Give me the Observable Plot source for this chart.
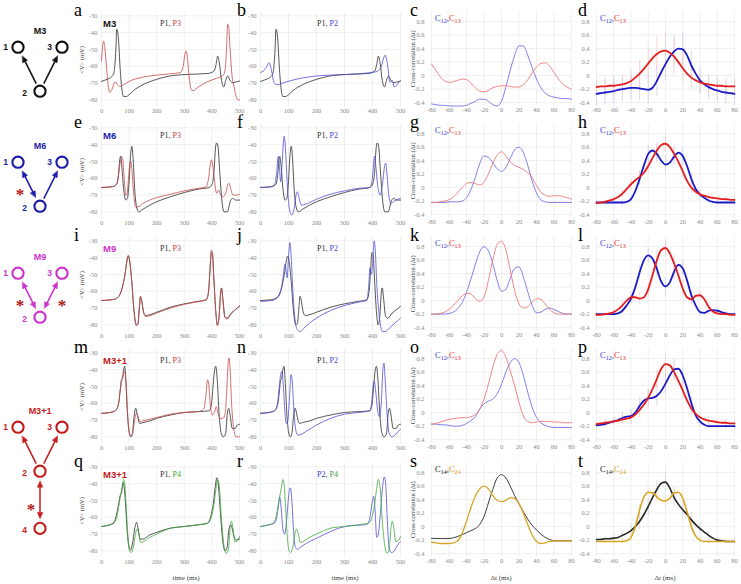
<!DOCTYPE html>
<html><head><meta charset="utf-8">
<script src="https://cdn.jsdelivr.net/npm/d3@7"></script>
<script src="https://cdn.jsdelivr.net/npm/@observablehq/plot@0.6"></script>
<style>
body{margin:0;background:#fff;}
#fig{position:relative;width:741px;height:584px;background:#fff;overflow:hidden;}
#fig svg{position:absolute;overflow:visible;}
</style></head><body><div id="fig"></div><script>
// ---------- axis ticks ----------
const vXTicks = [0,100,200,300,400,500];
const vYTicks = [-80,-70,-60,-50,-40,-30];
const ccXTicks = [-80,-60,-40,-20,0,20,40,60,80];
const ccYTicks = [-0.4,-0.2,0,0.2,0.4,0.6,0.8];
const dtGrid = [-80,-75,-70,-65,-60,-55,-50,-45,-40,-35,-30,-25,-20,-15,-10,-5,0,5,10,15,20,25,30,35,40,45,50,55,60,65,70,75,80];
const errDt = [-80,-70,-60,-50,-40,-30,-20,-10,0,10,20,30,40,50,60,70,80];
const panelLetters = ["a","b","c","d","e","f","g","h","i","j","k","l","m","n","o","p","q","r","s","t"];

// ---------- motifs ----------
const motifNames = ["M3","M6","M9","M3+1"];
const motifNodes = [
  ["M3","1",0,0],["M3","3",1,0],["M3","2",0.5,1],
  ["M6","1",0,0],["M6","3",1,0],["M6","2",0.5,1],
  ["M9","1",0,0],["M9","3",1,0],["M9","2",0.5,1],
  ["M3+1","1",0,0],["M3+1","3",1,0],["M3+1","2",0.5,1],["M3+1","4",0.5,2.3]
];
// [motif, from, to, bidirectional, starred]
const motifEdges = [
  ["M3","2","1",false,false],["M3","2","3",false,false],
  ["M6","2","1",true,true],["M6","2","3",false,false],
  ["M9","2","1",true,true],["M9","2","3",true,true],
  ["M3+1","2","1",false,false],["M3+1","2","3",false,false],["M3+1","2","4",true,true]
];

// ---------- voltage traces [t (ms), <V> (mV)] ----------
const r1_P1 = [[0,-69],[20,-67.8],[35,-66.5],[45,-64],[49,-58],[52,-50],[55,-38],[58,-39],[62,-45],[67,-60],[73,-72.5],[80,-78],[90,-78],[100,-77],[116,-74.5],[150,-71],[200,-67.8],[260,-65.5],[320,-64.8],[385,-64.3],[408,-62.8],[415,-59],[421,-54],[427,-58],[435,-68.5],[443,-72.3],[451,-67.8],[457,-65.8],[466,-68.5],[476,-69.8],[490,-69.2],[500,-68.8]];
const r1_P3 = [[0,-57],[4,-48],[8,-45],[12,-49],[18,-60],[24,-71],[30,-75.5],[38,-74],[46,-70],[52,-69.5],[58,-71],[66,-72],[80,-71],[100,-69],[150,-66.5],[200,-65.3],[250,-64.5],[285,-63.8],[296,-60],[302,-53],[307,-51],[312,-56],[318,-67],[325,-74],[332,-74.5],[350,-72.5],[380,-69.5],[420,-67],[440,-65.5],[448,-62],[453,-50],[457,-35],[461,-37],[466,-50],[472,-64],[480,-72],[488,-78],[494,-80],[500,-80]];
const r1_P2 = [[0,-63.7],[10,-62.8],[20,-61],[26,-59],[30,-57.8],[34,-59],[40,-63],[46,-68.5],[54,-70.8],[62,-71],[85,-69.7],[145,-67.1],[206,-65.7],[327,-64.7],[412,-63.3],[430,-60.8],[440,-55],[445,-53.4],[450,-55.5],[456,-62],[462,-69.5],[467,-69],[471,-68.5],[477,-72.3],[485,-71.5],[492,-70],[500,-68.7]];

const r2_P1 = [[0,-65.5],[40,-65],[55,-63.5],[62,-57],[66,-49],[69,-47],[73,-52],[80,-66],[88,-73],[94,-72],[100,-62],[105,-47],[110,-41],[114,-47],[120,-66],[127,-77],[135,-80],[150,-78.5],[175,-76],[200,-74],[250,-71],[300,-68.5],[350,-66.5],[390,-65.5],[402,-63],[408,-55],[413,-42],[417,-39],[422,-41],[428,-55],[436,-73],[444,-80],[456,-80],[462,-77],[468,-73],[476,-72],[486,-73],[500,-73]];
const r2_P3 = [[0,-65.5],[40,-65],[55,-63.5],[62,-58],[68,-50],[72,-47],[77,-49],[82,-60],[88,-70],[92,-70],[97,-62],[102,-52],[106,-50],[110,-55],[116,-68],[124,-77],[132,-77],[150,-75],[175,-73],[200,-71.5],[250,-69.5],[300,-67.5],[350,-66],[380,-65],[388,-60],[394,-52],[398,-49],[403,-52],[410,-62],[417,-69],[424,-67],[432,-70],[440,-71],[450,-69],[457,-64],[462,-63],[468,-66],[476,-70],[490,-70],[500,-69.5]];
const r2_P2 = [[0,-65.5],[40,-65],[52,-63],[58,-56],[63,-47],[67,-52],[72,-62],[77,-52],[82,-38],[85,-35],[89,-42],[95,-62],[103,-78],[112,-82],[120,-78],[127,-70],[132,-68],[138,-72],[146,-76],[175,-74.5],[200,-72.5],[250,-69.5],[300,-67.5],[350,-66],[390,-65.5],[398,-62],[403,-53],[407,-47],[412,-53],[419,-65],[428,-70],[436,-63],[443,-53],[447,-51],[452,-58],[458,-70],[466,-75],[474,-74],[484,-73],[500,-72]];

const r3_P1 = [[0,-65.5],[40,-65],[60,-63.5],[75,-58],[85,-50],[92,-42],[97,-39],[102,-42],[110,-55],[118,-72],[126,-80],[132,-79],[137,-70],[141,-63],[145,-65],[152,-72],[160,-74.5],[175,-74],[200,-72.5],[250,-69.5],[300,-67.5],[350,-66],[380,-65],[388,-60],[393,-48],[398,-37],[402,-38],[407,-52],[414,-72],[420,-80],[426,-75],[432,-60],[435,-58],[440,-65],[447,-75],[455,-76],[470,-73],[485,-71],[500,-69]];
const r3_P3 = [[0,-65.5],[40,-65],[60,-63.5],[75,-58],[85,-50],[92,-42],[97,-38.5],[102,-41.5],[110,-55],[118,-72],[126,-80.5],[132,-79.5],[137,-70.5],[141,-63.5],[145,-65.5],[152,-72.5],[160,-75],[175,-74.5],[200,-73],[250,-70],[300,-67.8],[350,-66.2],[380,-65.2],[388,-60],[393,-47],[398,-35.5],[402,-37],[407,-52],[414,-72],[420,-80.5],[426,-75.5],[432,-60.5],[435,-58.5],[440,-65.5],[447,-75.5],[455,-76.5],[470,-73.5],[485,-71],[500,-68.5]];
const r3_P2 = [[0,-66],[40,-65.5],[60,-64],[75,-58],[82,-50],[87,-44],[91,-47],[95,-52],[100,-40],[105,-31],[109,-38],[115,-58],[122,-75],[132,-83],[142,-84],[155,-82],[175,-79],[200,-76],[250,-71.5],[300,-68.5],[350,-66.5],[380,-65.5],[386,-58],[391,-46],[395,-50],[400,-45],[406,-30],[410,-36],[416,-58],[425,-76],[436,-84],[446,-84],[460,-82],[480,-79],[500,-76]];

const r4_P1 = [[0,-66],[30,-65.5],[50,-64.5],[62,-60],[68,-52],[72,-46],[76,-45],[80,-40],[84,-38],[88,-46],[94,-66],[100,-77],[106,-80],[112,-78],[118,-68],[124,-63],[130,-67],[138,-72],[150,-71.5],[175,-70.5],[200,-69],[250,-67],[300,-65.5],[350,-65],[390,-64.5],[398,-61],[404,-50],[410,-40],[414,-38],[419,-45],[426,-66],[434,-78],[442,-80],[450,-78],[456,-66],[461,-63],[466,-67],[474,-75],[484,-75],[492,-73],[500,-72.5]];
const r4_P3 = [[0,-66],[30,-65.5],[50,-64.5],[62,-60],[68,-52],[73,-47],[77,-45],[81,-42],[85,-41],[89,-48],[95,-68],[102,-78],[108,-79.5],[114,-77],[120,-70],[126,-66],[132,-68],[140,-71],[150,-70.5],[175,-69.5],[200,-68.5],[250,-66.5],[300,-65.5],[350,-65],[370,-63.5],[378,-56],[384,-46],[388,-48],[395,-62],[402,-67],[410,-65],[416,-62],[422,-66],[430,-69],[440,-69],[448,-66],[453,-55],[458,-38],[462,-33],[466,-40],[472,-62],[480,-76],[488,-80],[500,-80]];
const r4_P2 = [[0,-66],[30,-65.5],[50,-64.5],[60,-61],[66,-52],[72,-43],[76,-41],[80,-46],[86,-62],[92,-72],[98,-70],[104,-55],[109,-43],[113,-46],[119,-64],[126,-76],[134,-79],[145,-78.5],[165,-76.5],[200,-73],[250,-69],[300,-66.5],[350,-65.5],[390,-64.5],[397,-60],[402,-50],[406,-47],[411,-52],[418,-64],[425,-68],[432,-58],[437,-40],[441,-36],[445,-45],[452,-66],[460,-78],[470,-80],[480,-79],[490,-77],[500,-75.5]];

const r5_P1 = [[0,-65.5],[30,-64.5],[45,-63],[55,-58],[62,-52],[68,-47],[73,-45],[78,-39.5],[82,-42],[87,-52],[93,-68],[100,-78],[105,-79.5],[112,-76],[120,-67],[127,-63],[133,-67],[140,-73],[150,-73],[175,-70.5],[200,-69],[250,-66.5],[300,-65.5],[350,-64.5],[385,-63.5],[395,-60],[405,-52],[412,-42],[418,-36.5],[424,-42],[432,-60],[440,-75],[448,-80],[455,-78],[462,-67],[468,-64.5],[474,-67],[482,-72.5],[490,-73.5],[500,-73]];
const r5_P4 = [[0,-65.5],[30,-64.5],[45,-63.5],[55,-60],[62,-54],[68,-48],[74,-43],[80,-37.5],[84,-40],[89,-52],[95,-70],[102,-80],[108,-81],[115,-78],[122,-71],[128,-67],[134,-69],[142,-75],[152,-74.5],[175,-72],[200,-70],[250,-66.5],[300,-65.5],[350,-64.5],[385,-63.5],[396,-61],[406,-54],[414,-44],[421,-37.5],[427,-42],[435,-62],[444,-77],[452,-81.5],[460,-79],[466,-66],[471,-62.5],[476,-66],[483,-74.5],[492,-74],[500,-71.5]];
const r5_P2 = [[0,-65.5],[30,-64.5],[50,-63.5],[58,-60],[64,-53],[69,-48],[74,-55],[80,-67],[86,-70],[92,-64],[98,-52],[103,-44],[107,-42.5],[112,-50],[118,-68],[125,-78],[132,-79],[145,-77.5],[175,-74.5],[200,-72.5],[250,-68.5],[280,-66.5],[320,-65],[370,-64.5],[385,-63.5],[393,-58],[400,-50],[404,-47.5],[409,-55],[415,-72],[421,-70],[427,-60],[436,-42],[442,-36],[447,-40],[453,-62],[460,-79],[468,-81],[478,-80],[488,-77],[500,-74.5]];

// ---------- cross-correlations on dtGrid ----------
const r1_c_C12 = [-0.42,-0.43,-0.44,-0.44,-0.45,-0.45,-0.45,-0.45,-0.44,-0.41,-0.38,-0.35,-0.35,-0.38,-0.43,-0.45,-0.38,-0.17,0.08,0.3,0.44,0.44,0.3,0.12,-0.05,-0.18,-0.26,-0.3,-0.32,-0.33,-0.34,-0.34,-0.35];
const r1_c_C13 = [0.17,0.08,-0.02,-0.08,-0.1,-0.09,-0.07,-0.05,-0.06,-0.11,-0.18,-0.23,-0.24,-0.22,-0.18,-0.16,-0.15,-0.15,-0.16,-0.17,-0.17,-0.13,-0.06,0.04,0.13,0.18,0.19,0.14,0.05,-0.05,-0.12,-0.17,-0.2];
const r1_d_C12 = [-0.27,-0.26,-0.25,-0.24,-0.23,-0.21,-0.2,-0.19,-0.18,-0.18,-0.19,-0.2,-0.21,-0.18,-0.08,0.05,0.17,0.28,0.36,0.4,0.39,0.3,0.15,0.03,-0.07,-0.13,-0.17,-0.2,-0.22,-0.24,-0.25,-0.26,-0.27];
const r1_d_C13 = [-0.17,-0.16,-0.16,-0.15,-0.15,-0.14,-0.13,-0.11,-0.08,-0.03,0.03,0.1,0.18,0.26,0.32,0.36,0.37,0.34,0.28,0.2,0.11,0.03,-0.03,-0.07,-0.1,-0.12,-0.13,-0.14,-0.15,-0.15,-0.16,-0.16,-0.16];
const r2_g_C12 = [-0.22,-0.22,-0.22,-0.22,-0.21,-0.21,-0.21,-0.2,-0.15,-0.03,0.15,0.35,0.47,0.45,0.37,0.28,0.24,0.3,0.43,0.56,0.6,0.52,0.33,0.1,-0.08,-0.18,-0.21,-0.22,-0.22,-0.22,-0.22,-0.22,-0.22];
const r2_g_C13 = [-0.22,-0.22,-0.21,-0.2,-0.18,-0.14,-0.07,0.0,0.06,0.075,0.06,0.04,0.08,0.2,0.36,0.48,0.53,0.47,0.38,0.33,0.3,0.27,0.22,0.15,0.03,-0.07,-0.11,-0.13,-0.12,-0.12,-0.13,-0.15,-0.17];
const r2_h_C12 = [-0.22,-0.22,-0.22,-0.22,-0.22,-0.22,-0.22,-0.21,-0.17,-0.05,0.13,0.33,0.5,0.55,0.5,0.4,0.34,0.37,0.46,0.52,0.47,0.32,0.13,-0.02,-0.1,-0.15,-0.19,-0.21,-0.22,-0.22,-0.22,-0.22,-0.22];
const r2_h_C13 = [-0.23,-0.22,-0.21,-0.19,-0.17,-0.14,-0.09,-0.02,0.05,0.11,0.16,0.22,0.32,0.44,0.55,0.63,0.65,0.6,0.5,0.38,0.24,0.1,0.0,-0.06,-0.1,-0.12,-0.14,-0.15,-0.16,-0.17,-0.17,-0.18,-0.18];
const r3_k_C12 = [-0.2,-0.2,-0.2,-0.2,-0.19,-0.17,-0.12,-0.03,0.12,0.32,0.53,0.72,0.8,0.74,0.55,0.3,0.14,0.17,0.33,0.48,0.5,0.35,0.13,-0.07,-0.18,-0.17,-0.13,-0.11,-0.13,-0.16,-0.19,-0.2,-0.2];
const r3_k_C13 = [-0.2,-0.2,-0.19,-0.17,-0.13,-0.07,0.0,0.07,0.11,0.1,0.03,-0.01,0.05,0.3,0.6,0.83,0.88,0.75,0.45,0.15,-0.05,-0.11,-0.09,-0.02,0.03,0.02,-0.05,-0.13,-0.18,-0.2,-0.2,-0.2,-0.2];
const r3_l_C12 = [-0.2,-0.2,-0.2,-0.2,-0.2,-0.19,-0.15,-0.07,0.03,0.2,0.42,0.6,0.67,0.62,0.47,0.28,0.21,0.27,0.43,0.53,0.48,0.3,0.08,-0.07,-0.17,-0.18,-0.15,-0.14,-0.15,-0.17,-0.19,-0.2,-0.2];
const r3_l_C13 = [-0.21,-0.21,-0.2,-0.19,-0.17,-0.13,-0.07,0.0,0.05,0.05,0.03,0.05,0.17,0.38,0.6,0.75,0.78,0.7,0.55,0.37,0.18,0.05,0.02,0.07,0.08,0.02,-0.09,-0.16,-0.19,-0.2,-0.2,-0.21,-0.21];
const r4_o_C12 = [-0.17,-0.17,-0.18,-0.18,-0.19,-0.2,-0.2,-0.19,-0.16,-0.12,-0.06,0.05,0.13,0.17,0.2,0.28,0.42,0.6,0.74,0.8,0.74,0.55,0.3,0.08,-0.07,-0.15,-0.19,-0.21,-0.22,-0.22,-0.22,-0.22,-0.22];
const r4_o_C13 = [-0.17,-0.16,-0.14,-0.12,-0.1,-0.09,-0.08,-0.075,-0.075,-0.06,-0.03,0.05,0.2,0.42,0.67,0.86,0.92,0.82,0.62,0.4,0.15,-0.05,-0.13,-0.15,-0.14,-0.13,-0.13,-0.13,-0.14,-0.14,-0.15,-0.15,-0.15];
const r4_p_C12 = [-0.19,-0.18,-0.17,-0.15,-0.13,-0.11,-0.08,-0.06,-0.05,0.0,0.1,0.18,0.21,0.22,0.25,0.32,0.43,0.55,0.64,0.65,0.55,0.36,0.14,-0.04,-0.13,-0.18,-0.2,-0.2,-0.2,-0.2,-0.2,-0.2,-0.2];
const r4_p_C13 = [-0.17,-0.16,-0.15,-0.14,-0.13,-0.12,-0.1,-0.09,-0.07,-0.03,0.04,0.12,0.22,0.35,0.5,0.65,0.72,0.7,0.6,0.47,0.33,0.18,0.06,-0.02,-0.07,-0.1,-0.12,-0.13,-0.14,-0.15,-0.15,-0.16,-0.16];
const r5_s_C14 = [-0.175,-0.175,-0.175,-0.175,-0.175,-0.165,-0.145,-0.12,-0.09,-0.06,-0.03,0.03,0.15,0.35,0.55,0.72,0.77,0.72,0.6,0.46,0.34,0.22,0.11,0.02,-0.05,-0.11,-0.16,-0.19,-0.21,-0.21,-0.21,-0.21,-0.21];
const r5_s_C24 = [-0.23,-0.24,-0.25,-0.25,-0.25,-0.24,-0.21,-0.1,0.08,0.28,0.45,0.56,0.6,0.56,0.46,0.39,0.37,0.39,0.43,0.42,0.34,0.2,0.03,-0.12,-0.22,-0.25,-0.24,-0.22,-0.21,-0.21,-0.21,-0.21,-0.21];
const r5_t_C14 = [-0.19,-0.19,-0.18,-0.18,-0.17,-0.16,-0.13,-0.1,-0.06,0.0,0.08,0.18,0.3,0.43,0.55,0.64,0.66,0.57,0.43,0.33,0.25,0.18,0.1,0.03,-0.03,-0.08,-0.13,-0.17,-0.2,-0.21,-0.22,-0.22,-0.22];
const r5_t_C24 = [-0.22,-0.22,-0.22,-0.22,-0.22,-0.22,-0.22,-0.21,-0.16,0.0,0.25,0.44,0.51,0.5,0.44,0.39,0.38,0.42,0.5,0.51,0.42,0.22,0.0,-0.14,-0.2,-0.22,-0.22,-0.22,-0.22,-0.22,-0.22,-0.22,-0.22];

// ---------- error bars (sd) on errDt for averaged panels ----------
const r1_d_C12_sd = [0.17,0.18,0.18,0.18,0.18,0.18,0.2,0.22,0.24,0.25,0.24,0.22,0.2,0.18,0.17,0.17,0.17];
const r1_d_C13_sd = [0.12,0.12,0.13,0.14,0.16,0.2,0.24,0.26,0.27,0.26,0.22,0.18,0.15,0.13,0.12,0.12,0.12];
const r2_h_C12_sd = [0.03,0.03,0.03,0.04,0.06,0.1,0.12,0.13,0.14,0.13,0.12,0.09,0.06,0.04,0.03,0.03,0.03];
const r2_h_C13_sd = [0.03,0.03,0.04,0.05,0.07,0.09,0.1,0.12,0.13,0.12,0.1,0.08,0.06,0.05,0.04,0.04,0.03];
const r3_l_C12_sd = [0.03,0.03,0.03,0.04,0.08,0.1,0.11,0.12,0.13,0.12,0.11,0.08,0.06,0.05,0.04,0.03,0.03];
const r3_l_C13_sd = [0.03,0.03,0.04,0.06,0.08,0.09,0.1,0.12,0.13,0.12,0.1,0.09,0.07,0.05,0.04,0.03,0.03];
const r4_p_C12_sd = [0.04,0.05,0.06,0.08,0.1,0.12,0.13,0.15,0.16,0.15,0.13,0.1,0.07,0.05,0.04,0.04,0.04];
const r4_p_C13_sd = [0.04,0.05,0.06,0.08,0.1,0.12,0.13,0.14,0.15,0.14,0.12,0.1,0.08,0.06,0.05,0.04,0.04];
const r5_t_C14_sd = [0.03,0.04,0.05,0.07,0.1,0.12,0.13,0.14,0.15,0.14,0.13,0.11,0.08,0.05,0.04,0.03,0.03];
const r5_t_C24_sd = [0.02,0.02,0.03,0.04,0.06,0.08,0.08,0.09,0.1,0.09,0.08,0.07,0.05,0.04,0.03,0.02,0.02];

// ---------- styles / layout ----------
const COL = {P1:"#2b2b2b", P3:"#c94a4a", P2:"#4f4fd6", P4:"#3fa83f",
  C12t:"#7272e6", C13t:"#ef7878", C12:"#1a1ac6", C13:"#e41e1e", C14:"#262626", C24:"#d9a424"};
const ERRCOL = {C12:"#c6c6f2", C13:"#f6c4c4", C14:"#cfcfcf", C24:"#efdcaa"};
const MCOL = {"M3":"#111111","M6":"#1c1ca8","M9":"#cc33cc","M3+1":"#c41b1b"};
const OFF = [0,112,225,337,451];
const SERIF = "Liberation Serif, DejaVu Serif, serif";
const SANS = "Liberation Sans, Arial, sans-serif";
const fig = document.getElementById("fig");

function place(svg, left, top){
  svg.style.position = "absolute"; svg.style.left = left + "px"; svg.style.top = top + "px";
  svg.style.background = "none"; svg.style.maxWidth = "none";
  fig.appendChild(svg);
  d3.select(svg).selectAll('[aria-label="y-axis label"], [aria-label="x-axis label"]').attr("fill","#3a3a3a");
}
const axisStyle = {fontFamily: SERIF, fontSize: "6.5px", color: "#8c8c8c", background: "none", overflow: "visible"};
const gridMarks = (xt, yt) => [Plot.ruleX(xt, {stroke:"#e6e6e6", strokeWidth:0.6}), Plot.ruleY(yt, {stroke:"#e6e6e6", strokeWidth:0.6})];

function voltagePanel(col, row, series){
  const xr = col === 0 ? [101,239] : [260,400];
  const yTop = 11.64 + OFF[row], yBot = 106.56 + OFF[row];
  const mL = 34, mR = 6, mT = 4, mB = 12;
  const svg = Plot.plot({
    width: mL + xr[1]-xr[0] + mR, height: mT + (yBot-yTop) + mB,
    marginLeft: mL, marginRight: mR, marginTop: mT, marginBottom: mB,
    style: axisStyle,
    x: {domain:[0,500], ticks: vXTicks, tickSize:0, tickPadding:1, tickFormat: d => String(d), label: null},
    y: {domain:[-84.5,-28], ticks: vYTicks, tickSize:0, tickPadding:4, tickFormat: d => String(d),
        label: col === 0 ? "<V> (mV)" : null, labelAnchor:"center", labelOffset:22, labelArrow:"none"},
    marks: [...gridMarks(vXTicks, vYTicks),
      ...series.map(s => Plot.line(s.data, {x: d => d[0], y: d => d[1], stroke: s.color, strokeWidth: 0.8, curve: "monotone-x"}))]
  });
  place(svg, xr[0]-mL, yTop-mT);
}

function ccPanel(col, row, curves){
  const xr = col === 2 ? [431,571] : [596,734];
  const yTop = 10.875 + OFF[row], yBot = 105.375 + OFF[row];
  const mL = 34, mR = 6, mT = 4, mB = 12;
  const marks = [...gridMarks(ccXTicks, ccYTicks)];
  for (const c of curves) if (c.sd) marks.push(Plot.ruleX(errDt, {x: d => d,
      y1: (d,i) => c.vals[2*i] - c.sd[i], y2: (d,i) => c.vals[2*i] + c.sd[i], stroke: c.err, strokeWidth: 0.7}));
  for (const c of curves) marks.push(Plot.line(dtGrid, {x: d => d, y: (d,i) => c.vals[i], stroke: c.color, strokeWidth: c.w, curve: "monotone-x"}));
  const svg = Plot.plot({
    width: mL + xr[1]-xr[0] + mR, height: mT + (yBot-yTop) + mB,
    marginLeft: mL, marginRight: mR, marginTop: mT, marginBottom: mB,
    style: axisStyle,
    x: {domain:[-80,80], ticks: ccXTicks, tickSize:0, tickPadding:1, tickFormat: d => String(d), label: null},
    y: {domain:[-0.45,0.95], ticks: ccYTicks, tickSize:0, tickPadding:7, tickFormat: d => String(d),
        label: col === 2 ? "Cross-correlation (\u0394t)" : null, labelAnchor:"center", labelOffset:21, labelArrow:"none"},
    marks
  });
  place(svg, xr[0]-mL, yTop-mT);
}

// ---------- panels ----------
const rowsV = [
  [[{data:r1_P1,color:COL.P1},{data:r1_P3,color:COL.P3}], [{data:r1_P1,color:COL.P1},{data:r1_P2,color:COL.P2}]],
  [[{data:r2_P1,color:COL.P1},{data:r2_P3,color:COL.P3}], [{data:r2_P1,color:COL.P1},{data:r2_P2,color:COL.P2}]],
  [[{data:r3_P1,color:COL.P1},{data:r3_P3,color:COL.P3}], [{data:r3_P1,color:COL.P1},{data:r3_P2,color:COL.P2}]],
  [[{data:r4_P1,color:COL.P1},{data:r4_P3,color:COL.P3}], [{data:r4_P1,color:COL.P1},{data:r4_P2,color:COL.P2}]],
  [[{data:r5_P1,color:COL.P1},{data:r5_P4,color:COL.P4}], [{data:r5_P2,color:COL.P2},{data:r5_P4,color:COL.P4}]]
];
rowsV.forEach((r,i) => { voltagePanel(0,i,r[0]); voltagePanel(1,i,r[1]); });

const thinC = (a,b) => [{vals:a,color:COL.C12t,w:0.9},{vals:b,color:COL.C13t,w:0.9}];
const thickC = (a,b,sa,sb) => [{vals:a,color:COL.C12,w:1.8,sd:sa,err:ERRCOL.C12},{vals:b,color:COL.C13,w:1.8,sd:sb,err:ERRCOL.C13}];
ccPanel(2,0,thinC(r1_c_C12,r1_c_C13)); ccPanel(3,0,thickC(r1_d_C12,r1_d_C13,r1_d_C12_sd,r1_d_C13_sd));
ccPanel(2,1,thinC(r2_g_C12,r2_g_C13)); ccPanel(3,1,thickC(r2_h_C12,r2_h_C13,r2_h_C12_sd,r2_h_C13_sd));
ccPanel(2,2,thinC(r3_k_C12,r3_k_C13)); ccPanel(3,2,thickC(r3_l_C12,r3_l_C13,r3_l_C12_sd,r3_l_C13_sd));
ccPanel(2,3,thinC(r4_o_C12,r4_o_C13)); ccPanel(3,3,thickC(r4_p_C12,r4_p_C13,r4_p_C12_sd,r4_p_C13_sd));
ccPanel(2,4,[{vals:r5_s_C14,color:COL.C14,w:0.9},{vals:r5_s_C24,color:COL.C24,w:1.3}]);
ccPanel(3,4,[{vals:r5_t_C14,color:COL.C14,w:1.6,sd:r5_t_C14_sd,err:ERRCOL.C14},{vals:r5_t_C24,color:COL.C24,w:1.6,sd:r5_t_C24_sd,err:ERRCOL.C24}]);

// ---------- motif diagrams ----------
const ROW0 = {"M3":46.7,"M6":161.7,"M9":272.7,"M3+1":426.7};
const U = 1/44; // data units per pixel
motifNames.forEach(m => {
  const color = MCOL[m];
  const nodes = motifNodes.filter(n => n[0] === m).map(n => ({id:n[1], col:n[2], row:n[3]}));
  const node = id => nodes.find(n => n.id === id);
  const lines = [], heads = [], stars = [];
  motifEdges.filter(e => e[0] === m).forEach((e,k) => {
    const A = node(e[1]), B = node(e[2]);
    const dx = B.col-A.col, dy = B.row-A.row, len = Math.hypot(dx,dy);
    const ux = dx/len, uy = dy/len, nx = -uy, ny = ux;
    const tri = (tx,ty,sx,sy,key) => {
      const bx = tx - sx*6*U, by = ty - sy*6*U;
      heads.push({k:key,x:tx,y:ty},{k:key,x:bx+nx*2.6*U,y:by+ny*2.6*U},{k:key,x:bx-nx*2.6*U,y:by-ny*2.6*U});
    };
    const tBx = B.col - ux*10*U, tBy = B.row - uy*10*U;
    tri(tBx,tBy,ux,uy,k+"b");
    let sx = A.col + ux*8.5*U, sy = A.row + uy*8.5*U;
    if (e[3]) { sx = A.col + ux*10*U; sy = A.row + uy*10*U; tri(sx,sy,-ux,-uy,k+"a"); sx += ux*3*U; sy += uy*3*U; }
    lines.push({x1:sx, y1:sy, x2:tBx-ux*3*U, y2:tBy-uy*3*U});
    if (e[4]) {
      const mx = (A.col+B.col)/2, my = (A.row+B.row)/2;
      const side = mx < 0.5 ? -9 : mx > 0.5 ? 11 : -9;
      stars.push({x: mx + side*U, y: my});
    }
  });
  const topNodes = nodes.filter(n => n.row === 0);
  const title = [{x: d3.mean(topNodes, n => n.col), y: 0, t: m}];
  const svg = Plot.plot({
    width: 90, height: 584, margin: 0,
    style: {background:"none", overflow:"visible"},
    x: {domain:[0,1], range:[17.5,61.5], axis:null},
    y: {domain:[0,1], range:[ROW0[m], ROW0[m]+44], axis:null},
    marks: [
      Plot.link(lines, {x1:"x1", y1:"y1", x2:"x2", y2:"y2", stroke: color, strokeWidth: 1.5}),
      Plot.line(heads, {x:"x", y:"y", z:"k", fill: color, stroke: color, strokeWidth: 0.6, curve:"linear-closed"}),
      Plot.dot(nodes, {x:"col", y:"row", r:5.6, stroke: color, strokeWidth: 2.1, fill:"white"}),
      Plot.text(nodes.filter(n => n.row === 0), {x:"col", y:"row", text:"id", dx:-12.5, fill: color, fontSize: 8.5, fontWeight:"bold", fontFamily: SANS}),
      Plot.text(nodes.filter(n => n.row !== 0), {x:"col", y:"row", text:"id", dx:-15.5, dy:2, fill: color, fontSize: 8.5, fontWeight:"bold", fontFamily: SANS}),
      Plot.text(title, {x:"x", y:"y", text:"t", dy:-16, fill: color, fontSize: 9, fontWeight:"bold", fontFamily: SANS}),
      Plot.text(stars, {x:"x", y:"y", text: () => "*", dy: 10, fill:"#b01818", fontSize: 17, fontWeight:"bold", fontFamily: SERIF})
    ]
  });
  place(svg, 0, 0);
});

// ---------- annotations (letters, legends, axis titles) ----------
const ann = d3.select(fig).append("svg").attr("width",741).attr("height",584)
  .style("left","0px").style("top","0px").style("pointer-events","none");
const letterX = [74,237,410,578];
panelLetters.forEach((L,i) => {
  const r = Math.floor(i/4), c = i%4;
  ann.append("text").attr("x", letterX[c]).attr("y", 15.5 + OFF[r]).attr("font-family", SERIF)
    .attr("font-size", 18).attr("fill","#000").text(L);
});
function rich(x, y, parts, size){
  const t = ann.append("text").attr("x",x).attr("y",y).attr("font-family",SERIF).attr("font-size",size);
  parts.forEach(p => {
    if (p.sub) t.append("tspan").attr("fill",p.c).attr("font-size",size*0.72).attr("dy",2).text(p.s);
    else t.append("tspan").attr("fill",p.c).attr("dy", p.up ? -2 : 0).text(p.s);
  });
}
const vLegends = [[["P1","P3"],["P1","P2"]],[["P1","P3"],["P1","P2"]],[["P1","P3"],["P1","P2"]],[["P1","P3"],["P1","P2"]],[["P1","P4"],["P2","P4"]]];
const pColor = {P1:COL.P1, P2:"#3a3ad0", P3:"#c43838", P4:"#3a9e3a"};
vLegends.forEach((row, r) => {
  ann.append("text").attr("x",103).attr("y",26.5+OFF[r]).attr("font-family",SANS).attr("font-weight","bold")
    .attr("font-size",9.5).attr("fill",MCOL[motifNames[Math.min(r,3)]]).text(motifNames[Math.min(r,3)]);
  row.forEach((pair, c) => {
    rich(c === 0 ? 160 : 317, 26 + OFF[r], [{s:pair[0], c:pColor[pair[0]]},{s:", ", c:"#333"},{s:pair[1], c:pColor[pair[1]]}], 8);
  });
});
const ccLeg = [["12","13"],["12","13"],["12","13"],["12","13"],["14","24"]];
ccLeg.forEach((pair, r) => {
  const ca = r === 4 ? "#222" : "#3a3ad0", cb = r === 4 ? "#d29a14" : "#e23030";
  [435,600].forEach(x => rich(x, 20.5 + OFF[r], [{s:"C",c:ca},{s:pair[0],c:ca,sub:true},{s:",",c:ca,up:true},{s:"C",c:cb},{s:pair[1],c:cb,sub:true}], 8.5));
});
[[186,"time (ms)"],[345,"time (ms)"],[501,"\u0394t (ms)"],[665,"\u0394t (ms)"]].forEach(([x,t]) =>
  ann.append("text").attr("x",x).attr("y",580).attr("text-anchor","middle").attr("font-family",SERIF)
    .attr("font-size",7).attr("fill","#3a3a3a").text(t));
</script></body></html>
